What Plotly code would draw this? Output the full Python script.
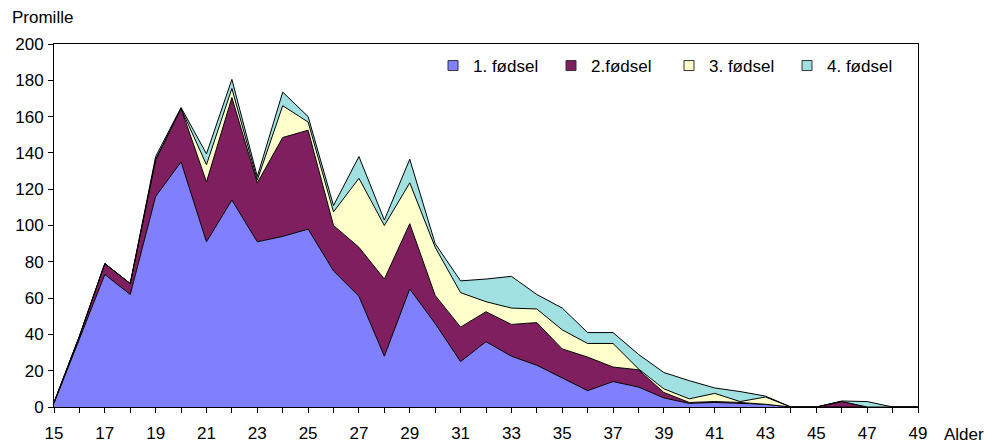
import plotly.graph_objects as go

ages = list(range(15, 50))
first = [2, 38, 73, 62, 116, 135, 91, 114, 91, 94, 98, 75, 61, 28, 65, 46, 25, 36, 28, 23,
         16, 9, 14, 11, 5, 2, 2.5, 2, 1.5, 0, 0, 0, 0, 0, 0]
second = [0.5, 1, 6, 6, 20, 29.5, 33, 56.5, 32.5, 54.5, 54.5, 25, 27, 42.5, 36, 15.5, 19, 16.5, 17.5, 23.5,
          16, 18.5, 8, 9.5, 3, 0.5, 0.5, 0.5, 0, 0, 0, 3, 0, 0, 0]
third = [0, 0, 0, 0, 0.5, 0, 9.5, 5, 1.5, 17.5, 4.5, 7.5, 38, 29.5, 22.5, 26.5, 19, 5.5, 9, 7.5,
         10.5, 7.5, 13, 0.5, 2, 2, 4.5, 0.5, 4, 0, 0, 0, 0, 0, 0]
fourth = [0, 0, 0, 0, 1.5, 0.5, 6, 5, 2, 7.5, 3, 3.5, 12, 3, 13, 2, 6.5, 12.5, 17.5, 8,
          12, 6, 6, 8, 9, 10, 3, 5.5, 0.5, 0, 0, 0.3, 3, 0, 0]

names = ["1. fødsel", "2.fødsel", "3. fødsel", "4. fødsel"]
colors = ["#8080FF", "#801F60", "#FFFFCC", "#A0E0E0"]
series = [first, second, third, fourth]

FONT = "Liberation Sans, Arial, sans-serif"
FS = 17

fig = go.Figure()
for nm, col, vals in zip(names, colors, series):
    fig.add_trace(go.Scatter(
        x=ages, y=vals, name=nm, mode="lines", stackgroup="one",
        line=dict(color="black", width=1), fillcolor=col, showlegend=False,
        hoverinfo="x+y+name"))
for nm, col in zip(names, colors):
    fig.add_trace(go.Scatter(
        x=[None], y=[None], name=nm, mode="markers",
        marker=dict(symbol="square", size=10, color=col, line=dict(color="#333333", width=1)),
        showlegend=True))

xticktext = [str(a) if (a - 15) % 2 == 0 else "" for a in ages]

fig.update_layout(
    width=987, height=443,
    margin=dict(l=54, r=69, t=44, b=36, autoexpand=False),
    paper_bgcolor="white", plot_bgcolor="white",
    font=dict(family=FONT, size=FS, color="black"),
    xaxis=dict(range=[15, 49], tickmode="array", tickvals=ages, ticktext=xticktext,
               ticks="outside", ticklen=5, tickcolor="black", tickwidth=1,
               showline=True, linecolor="black", linewidth=1, mirror=True,
               showgrid=False, zeroline=False, ticklabelstandoff=6, automargin=False,
               tickfont=dict(family=FONT, size=FS)),
    xaxis2=dict(range=[15, 49], overlaying="x", anchor="y", side="bottom",
                tickmode="linear", tick0=15, dtick=1, ticks="inside", ticklen=5,
                tickcolor="black", showticklabels=False, showline=False,
                showgrid=False, zeroline=False, automargin=False),
    yaxis=dict(range=[0, 200], tickmode="linear", tick0=0, dtick=20,
               ticks="outside", ticklen=5, tickcolor="black",
               showline=True, linecolor="black", linewidth=1, mirror=True,
               showgrid=False, zeroline=False, ticklabelstandoff=1, automargin=False,
               tickfont=dict(family=FONT, size=FS)),
    legend=dict(orientation="h", x=(433 - 54) / 864, xanchor="left",
                y=(407 - 66) / 363, yanchor="middle", entrywidth=73, entrywidthmode="pixels",
                bgcolor="rgba(0,0,0,0)", font=dict(family=FONT, size=FS),
                traceorder="normal"),
    annotations=[
        dict(text="Promille", xref="paper", yref="paper", x=(10 - 54) / 864, y=(407 - 18) / 363,
             xanchor="left", yanchor="middle", showarrow=False, font=dict(family=FONT, size=FS)),
        dict(text="Alder", xref="paper", yref="paper", x=(942 - 54) / 864, y=(407 - 434) / 363,
             xanchor="left", yanchor="middle", showarrow=False, font=dict(family=FONT, size=FS)),
    ],
)

fig.write_html(
    "out.html",
    config={"displayModeBar": False},
    post_script="document.body.style.margin='0';document.body.style.overflow='hidden';",
)
